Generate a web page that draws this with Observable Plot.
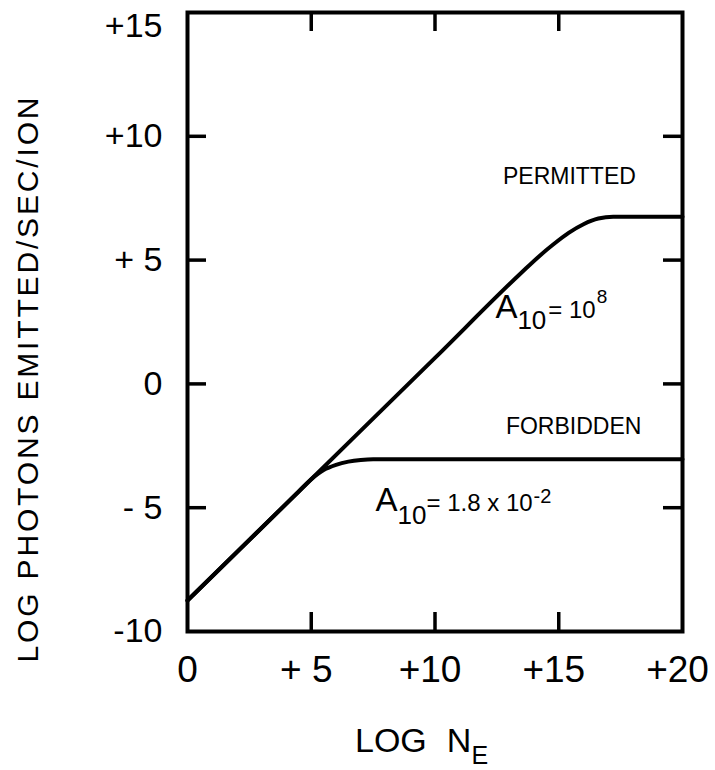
<!DOCTYPE html>
<html><head><meta charset="utf-8">
<script src="https://cdn.jsdelivr.net/npm/d3@7"></script>
<script src="https://cdn.jsdelivr.net/npm/@observablehq/plot@0.6"></script>
<style>body{margin:0;background:#fff}</style>
</head><body><div id="chart"></div>
<script>
// ---- data ----
const xDomain = [0, 20];
const yDomain = [-10, 15];
const xTickValues = [0, 5, 10, 15, 20];
const xTickLabels = ["0", "+ 5", "+10", "+15", "+20"];
const yTickValues = [15, 10, 5, 0, -5, -10];
const yTickLabels = ["+15", "+10", "+ 5", "0", "- 5", "-10"];
const xInnerTicks = [5, 10, 15];
const yInnerTicks = [10, 5, 0, -5];

const permittedX = [0, 5, 10, 13.5, 14.2, 14.8, 15.4, 16.0, 16.6, 17.2, 20];
const permittedY = [-8.75, -3.85, 1.05, 4.5, 5.15, 5.65, 6.1, 6.45, 6.68, 6.75, 6.75];
const forbiddenX = [0, 4.5, 5, 5.5, 6.0, 6.5, 7.0, 7.5, 20];
const forbiddenY = [-8.75, -4.34, -3.85, -3.48, -3.27, -3.14, -3.07, -3.04, -3.04];

const curveNames = ["PERMITTED", "FORBIDDEN"];
const curveLabelX = [15.43, 15.6];
const curveLabelY = [8.39, -1.73];

const eqBase = ["A", "A"];
const eqSub = ["10", "10"];
const eqMid = ["= 10", "= 1.8 x 10"];
const eqSup = ["8", "-2"];
const eqX = [12.44, 7.6];
const eqY = [2.66, -5.12];

const xTitleParts = ["LOG", "N", "E"];
const yTitle = "LOG PHOTONS EMITTED/SEC/ION";

// ---- chart ----
const W = 715, H = 770, mL = 187, mR = 33, mT = 12, mB = 139;
const frameW = W - mL - mR, frameH = H - mT - mB;
const fmt = (vals, labs) => d => labs[vals.indexOf(d)];
const tickLen = 19, tickW = 3.5;
const xTitleFull = xTitleParts.join("");

const svg = Plot.plot({
  width: W, height: H,
  marginLeft: mL, marginRight: mR, marginTop: mT, marginBottom: mB,
  x: {domain: xDomain},
  y: {domain: yDomain},
  style: {fontFamily: "'Liberation Sans', Arial, sans-serif", color: "black", background: "white"},
  marks: [
    // inward ticks on all four sides
    Plot.tickX(xInnerTicks, {x: d => d, insetTop: frameH - tickLen, strokeWidth: tickW}),
    Plot.tickX(xInnerTicks, {x: d => d, insetBottom: frameH - tickLen, strokeWidth: tickW}),
    Plot.tickY(yInnerTicks, {y: d => d, insetRight: frameW - tickLen, strokeWidth: tickW}),
    Plot.tickY(yInnerTicks, {y: d => d, insetLeft: frameW - tickLen, strokeWidth: tickW}),
    Plot.frame({stroke: "black", strokeWidth: 4}),
    Plot.axisX({ticks: [0], tickFormat: fmt(xTickValues, xTickLabels), tickSize: 0, tickPadding: 24, fontSize: 37, label: null}),
    Plot.axisX({ticks: xTickValues.filter(v => v !== 0), tickFormat: fmt(xTickValues, xTickLabels), tickSize: 0, tickPadding: 24, fontSize: 37, dx: -5, label: null}),
    Plot.axisY({ticks: yTickValues.filter(v => v !== 15), tickFormat: fmt(yTickValues, yTickLabels), tickSize: 0, tickPadding: 25, fontSize: 34, label: null}),
    Plot.axisY({ticks: [15], tickFormat: fmt(yTickValues, yTickLabels), tickSize: 0, tickPadding: 25, fontSize: 34, dy: 14, label: null}),
    Plot.line(permittedX, {x: d => d, y: (d, i) => permittedY[i], curve: "monotone-x", strokeWidth: 4}),
    Plot.line(forbiddenX, {x: d => d, y: (d, i) => forbiddenY[i], curve: "monotone-x", strokeWidth: 4}),
    Plot.text(curveNames, {x: (d, i) => curveLabelX[i], y: (d, i) => curveLabelY[i], text: d => d, fontSize: 23, textAnchor: "middle", lineAnchor: "middle"}),
    Plot.text(eqBase, {x: (d, i) => eqX[i], y: (d, i) => eqY[i], text: (d, i) => eqBase[i] + eqSub[i] + eqMid[i] + eqSup[i], fontSize: 33, textAnchor: "start", lineAnchor: "bottom"}),
    Plot.text([xTitleFull], {frameAnchor: "bottom", text: d => d, textAnchor: "start", lineAnchor: "bottom", fontSize: 34, dx: -80, dy: 120}),
    Plot.text([yTitle], {frameAnchor: "left", text: d => d, rotate: -90, textAnchor: "middle", lineAnchor: "bottom", fontSize: 30, dx: -150, dy: 58})
  ]
});

// rich text (subscripts / superscripts)
function rich(full, parts) {
  d3.select(svg).selectAll("text").filter(function () { return this.textContent === full; }).each(function () {
    const t = d3.select(this);
    t.text(null);
    parts.forEach(p => {
      t.append("tspan").attr("font-size", p.size).attr("dy", p.dy || 0).attr("dx", p.dx || 0).text(p.t);
    });
  });
}
rich(eqBase[0] + eqSub[0] + eqMid[0] + eqSup[0], [
  {t: eqBase[0], size: 33},
  {t: eqSub[0], size: 26, dy: 11, dx: 0},
  {t: eqMid[0], size: 24, dy: -11, dx: 2},
  {t: eqSup[0], size: 19, dy: -15, dx: 1}
]);
rich(eqBase[1] + eqSub[1] + eqMid[1] + eqSup[1], [
  {t: eqBase[1], size: 33},
  {t: eqSub[1], size: 26, dy: 13, dx: 0},
  {t: eqMid[1], size: 24, dy: -13, dx: 0},
  {t: eqSup[1], size: 20, dy: -8, dx: 1}
]);
rich(xTitleFull, [
  {t: xTitleParts[0], size: 34},
  {t: xTitleParts[1], size: 34, dx: 20},
  {t: xTitleParts[2], size: 25, dy: 12, dx: 0}
]);
d3.select(svg).selectAll("text").filter(function () { return this.textContent === yTitle; })
  .attr("textLength", 565).attr("lengthAdjust", "spacing");

document.getElementById("chart").appendChild(svg);
</script>
</body></html>
